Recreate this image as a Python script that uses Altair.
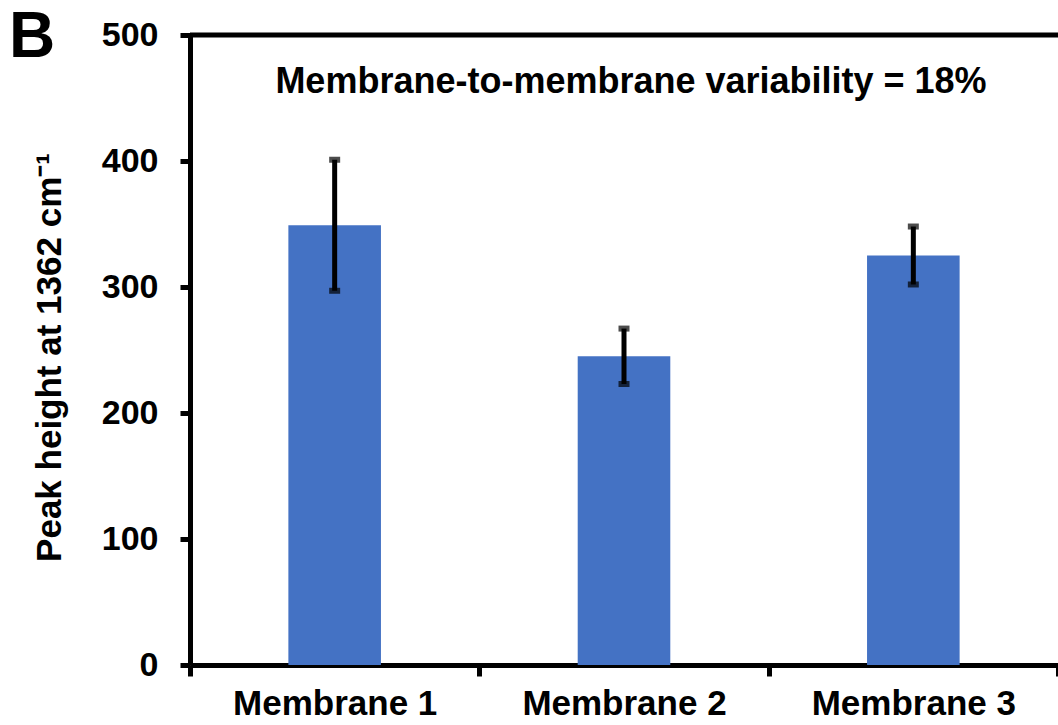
import altair as alt
import pandas as pd

categories = ["Membrane 1", "Membrane 2", "Membrane 3"]
means = [349, 245, 325]
errors = [52, 22, 23]

df = pd.DataFrame({
    "membrane": categories,
    "mean": means,
    "low": [m - e for m, e in zip(means, errors)],
    "high": [m + e for m, e in zip(means, errors)],
})

FONT = "Liberation Sans"

xenc = alt.X(
    "membrane:N",
    sort=categories,
    scale=alt.Scale(paddingInner=0, paddingOuter=0),
    axis=alt.Axis(
        title=None, labelAngle=0, labelFont=FONT, labelFontSize=35, labelFontWeight="bold",
        labelColor="black", labelLimit=0, tickBand="extent", tickSize=11, tickWidth=5,
        tickColor="black", domainColor="black", domainWidth=5, labelPadding=10, grid=False,
    ),
)

bars = alt.Chart(df).mark_bar(color="#4472C4", width=alt.RelativeBandSize(0.32)).encode(
    x=xenc,
    y=alt.Y(
        "mean:Q",
        scale=alt.Scale(domain=[0, 500], nice=False),
        axis=alt.Axis(
            title="Peak height at 1362 cm⁻¹", titleFont=FONT, titleFontSize=35, titleFontWeight="bold",
            titleColor="black", titleX=-141, titleY=322, titleAngle=270, titleBaseline="middle",
            titleAlign="center", titleLimit=0,
            values=[0, 100, 200, 300, 400, 500], labelFont=FONT, labelFontSize=34,
            labelFontWeight="bold", labelColor="black", labelPadding=22, tickSize=10, tickWidth=5,
            tickColor="black", domainColor="black", domainWidth=5, grid=False,
        ),
    ),
)

err = alt.Chart(df).mark_rule(color="black", strokeWidth=5).encode(
    x=alt.X("membrane:N", sort=categories), y="low:Q", y2="high:Q"
)
cap_lo = alt.Chart(df).mark_tick(color="black", size=11, thickness=6, orient="horizontal").encode(
    x=alt.X("membrane:N", sort=categories), y="low:Q"
)
cap_hi = alt.Chart(df).mark_tick(color="black", size=11, thickness=6, orient="horizontal").encode(
    x=alt.X("membrane:N", sort=categories), y="high:Q"
)

top_rule = alt.Chart(pd.DataFrame({"y": [500]})).mark_rule(color="black", strokeWidth=5).encode(
    y="y:Q", x=alt.value(0), x2=alt.value(868)
)

note = alt.Chart(pd.DataFrame({"t": ["Membrane-to-membrane variability = 18%"]})).mark_text(
    font=FONT, fontSize=36, fontWeight="bold", color="black", align="center", baseline="middle"
).encode(text="t:N", x=alt.value(441), y=alt.value(47))

panel = alt.Chart(pd.DataFrame({"t": ["B"]})).mark_text(
    font=FONT, fontSize=64, fontWeight="bold", color="black", align="center", baseline="middle"
).encode(text="t:N", x=alt.value(-158), y=alt.value(3))

chart = alt.layer(bars, err, cap_lo, cap_hi, top_rule, note, panel).properties(
    width=868, height=630,
    autosize=alt.AutoSizeParams(type="none"),
    padding={"left": 190, "top": 35, "right": 0, "bottom": 60},
    background="white",
).configure_view(stroke=None)

chart.save("out.html", embed_options={"renderer": "svg", "actions": False})
